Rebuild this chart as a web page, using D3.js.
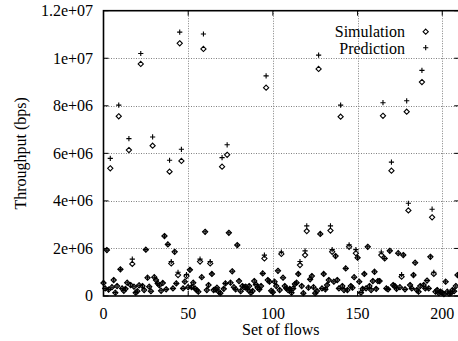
<!DOCTYPE html>
<html><head><meta charset="utf-8">
<script src="https://cdn.jsdelivr.net/npm/d3@7"></script>
<style>
html,body{margin:0;padding:0;background:#fff;}
svg text{font-family:"Liberation Serif","Times New Roman",serif;font-size:16px;fill:#000;}
</style></head>
<body>
<svg id="chart" width="458" height="341"></svg>
<script>
// Throughput values in units of 1e6 bps, one per set of flows (index 0..209)
const simulation = [
0.55,0.32,1.93,0.27,5.37,0.37,0.67,0.14,0.42,7.56,
1.12,0.32,0.22,0.30,0.56,6.14,0.46,1.35,0.39,0.14,
0.20,0.45,9.76,0.42,0.25,1.95,0.77,0.39,0.20,6.32,
0.79,0.67,0.53,0.45,0.22,0.55,2.52,0.28,2.17,5.23,
1.37,0.32,1.86,0.53,0.88,10.63,5.68,0.32,0.60,0.84,
0.37,1.10,0.37,0.56,0.32,0.25,0.18,1.45,0.79,10.39,
2.70,0.25,0.46,1.37,0.93,0.25,0.28,0.35,0.18,0.12,
5.44,0.30,0.53,5.94,2.66,0.56,1.04,0.37,0.28,2.14,
0.63,0.20,0.42,0.37,0.39,0.28,0.42,0.14,0.21,0.63,
0.48,0.35,0.28,0.42,0.95,1.58,8.76,0.67,0.60,0.22,
0.16,0.60,0.42,1.06,0.25,1.77,0.77,0.42,0.32,0.25,
0.30,0.14,0.32,0.50,0.56,0.93,1.30,0.42,0.12,1.72,
2.73,0.35,0.70,0.84,0.37,0.12,0.21,9.55,2.61,0.32,
0.93,0.28,0.46,0.67,2.75,1.86,0.60,1.68,0.67,0.32,
7.54,0.42,0.25,1.16,0.25,2.07,0.42,0.35,0.79,1.80,
1.61,0.60,0.14,0.30,0.93,0.32,2.07,0.42,0.25,0.63,
1.02,0.30,0.63,0.63,1.72,7.58,1.58,0.32,0.28,1.90,
5.27,0.46,0.42,0.30,1.80,0.37,0.81,1.72,0.28,7.75,
3.60,0.46,0.32,0.88,1.40,0.25,0.18,0.42,9.00,0.46,
0.32,0.65,0.32,1.65,3.31,0.93,0.18,0.25,0.12,0.18,
0.14,0.08,0.60,0.18,0.10,0.12,0.25,0.20,0.42,0.88
];
const prediction = [
0.55,0.32,1.93,0.27,5.79,0.37,0.67,0.14,0.42,8.03,
1.12,0.32,0.22,0.30,0.56,6.62,0.46,1.55,0.39,0.14,
0.20,0.45,10.20,0.42,0.25,1.95,0.77,0.39,0.20,6.69,
0.79,0.67,0.53,0.45,0.22,0.55,2.52,0.28,2.17,5.71,
1.45,0.32,1.86,0.53,1.00,11.10,6.17,0.32,0.60,0.90,
0.37,1.10,0.37,0.56,0.32,0.25,0.18,1.55,0.79,11.02,
2.70,0.25,0.46,1.45,0.93,0.25,0.28,0.35,0.18,0.12,
5.82,0.30,0.53,6.36,2.66,0.56,1.04,0.37,0.28,2.14,
0.63,0.20,0.42,0.37,0.39,0.28,0.42,0.14,0.21,0.63,
0.48,0.35,0.28,0.42,0.95,1.72,9.26,0.67,0.60,0.22,
0.16,0.60,0.42,1.06,0.25,1.85,0.77,0.42,0.32,0.25,
0.30,0.14,0.32,0.50,0.56,0.93,1.45,0.42,0.12,1.90,
2.95,0.35,0.70,0.84,0.37,0.12,0.21,10.13,2.61,0.32,
0.93,0.28,0.46,0.67,2.95,1.95,0.60,1.68,0.67,0.32,
8.03,0.42,0.25,1.16,0.25,2.15,0.42,0.35,0.79,1.95,
1.61,0.60,0.14,0.30,0.93,0.32,2.07,0.42,0.25,0.63,
1.02,0.30,0.63,0.63,1.85,8.13,1.58,0.32,0.28,1.90,
5.63,0.46,0.42,0.30,1.80,0.37,0.90,1.72,0.28,8.21,
3.90,0.46,0.32,0.88,1.40,0.25,0.18,0.42,9.49,0.46,
0.32,0.65,0.32,1.65,3.65,1.00,0.18,0.25,0.12,0.18,
0.14,0.08,0.60,0.18,0.10,0.12,0.25,0.20,0.42,0.88
];
const flows = d3.range(simulation.length);
const xTicks = [0, 50, 100, 150, 200];
const yTicks = [0, 2, 4, 6, 8, 10, 12];
const yTickLabels = ["0", "2e+06", "4e+06", "6e+06", "8e+06", "1e+07", "1.2e+07"];
const seriesNames = ["Simulation", "Prediction"];

const svg = d3.select("#chart");
const L = 103.5, R = 459.2, T = 10.7, B = 296;
const x = d3.scaleLinear().domain([0, 210]).range([L, R]);
const y = d3.scaleLinear().domain([0, 12]).range([B, T]);

// grid
const grid = svg.append("g").attr("stroke", "#808080").attr("stroke-width", 1).attr("stroke-dasharray", "1,1.5");
grid.selectAll("line.gx").data(xTicks.filter(d => d > 0)).join("line")
  .attr("x1", d => Math.round(x(d)) + 0.5).attr("x2", d => Math.round(x(d)) + 0.5)
  .attr("y1", T).attr("y2", B);
grid.selectAll("line.gy").data(yTicks.filter(d => d > 0 && d < 12)).join("line")
  .attr("y1", d => Math.round(y(d)) + 0.5).attr("y2", d => Math.round(y(d)) + 0.5)
  .attr("x1", L).attr("x2", R);

// points
const s = 2.6;
const diamond = `M0,${-s}L${s},0L0,${s}L${-s},0Z`;
const plus = `M${-s},0H${s}M0,${-s}V${s}`;
const pts = svg.append("g");
pts.selectAll("path.pred").data(flows).join("path")
  .attr("class", "pred")
  .attr("d", plus)
  .attr("transform", i => `translate(${x(i)},${y(prediction[i])})`)
  .attr("fill", "none").attr("stroke", "#000").attr("stroke-width", 1.1);
pts.selectAll("path.sim").data(flows).join("path")
  .attr("class", "sim")
  .attr("d", diamond)
  .attr("transform", i => `translate(${x(i)},${y(simulation[i])})`)
  .attr("fill", "none").attr("stroke", "#000").attr("stroke-width", 1.1);

// border
svg.append("rect").attr("x", L).attr("y", T).attr("width", R - L).attr("height", B - T)
  .attr("fill", "none").attr("stroke", "#000").attr("stroke-width", 1.6);

// ticks (inward, mirrored)
const tk = svg.append("g").attr("stroke", "#000").attr("stroke-width", 1);
yTicks.forEach(d => {
  tk.append("line").attr("x1", L).attr("x2", L + 5).attr("y1", y(d)).attr("y2", y(d));
  tk.append("line").attr("x1", R).attr("x2", R - 5).attr("y1", y(d)).attr("y2", y(d));
});
xTicks.forEach(d => {
  tk.append("line").attr("x1", x(d)).attr("x2", x(d)).attr("y1", B).attr("y2", B - 5);
  tk.append("line").attr("x1", x(d)).attr("x2", x(d)).attr("y1", T).attr("y2", T + 5);
});

// tick labels
svg.append("g").selectAll("text").data(yTicks).join("text")
  .attr("x", 93).attr("y", d => y(d)).attr("dy", "0.33em")
  .attr("text-anchor", "end")
  .text((d, i) => yTickLabels[i]);
svg.append("g").selectAll("text").data(xTicks).join("text")
  .attr("x", d => x(d)).attr("y", 319)
  .attr("text-anchor", "middle")
  .text(d => d);

// axis titles
svg.append("text").attr("x", (L + 458) / 2).attr("y", 335).attr("text-anchor", "middle").text("Set of flows");
svg.append("text").attr("transform", `translate(26,${(T + B) / 2}) rotate(-90)`)
  .attr("text-anchor", "middle").text("Throughput (bps)");

// legend
const lg = svg.append("g");
lg.append("text").attr("x", 405).attr("y", 37).attr("text-anchor", "end").text(seriesNames[0]);
lg.append("text").attr("x", 405).attr("y", 53.5).attr("text-anchor", "end").text(seriesNames[1]);
lg.append("path").attr("d", diamond).attr("transform", "translate(425.7,31.7)")
  .attr("fill", "none").attr("stroke", "#000").attr("stroke-width", 1.1);
lg.append("path").attr("d", plus).attr("transform", "translate(425.7,47.7)")
  .attr("fill", "none").attr("stroke", "#000").attr("stroke-width", 1.1);
</script>
</body></html>
